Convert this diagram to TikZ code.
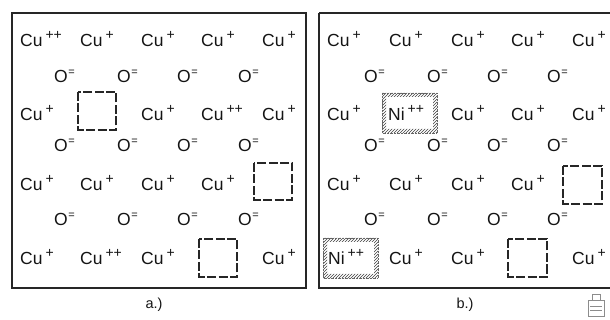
\documentclass[tikz,border=0pt]{standalone}
\usepackage{fontspec}
\setmainfont{Liberation Sans}
\usetikzlibrary{patterns}
\newcommand{\chg}[1]{\raisebox{0.42em}{\fontsize{14}{14}\selectfont #1}}
\newcommand{\cu}[1]{Cu\hspace{3pt}\chg{#1}}
\newcommand{\oxy}{O\hspace{0.5pt}\raisebox{0.42em}{\fontsize{11}{11}\selectfont =}}
\newcommand{\nick}[1]{Ni\hspace{3pt}\chg{#1}}
\begin{document}
\begin{tikzpicture}[x=1pt,y=-1pt,
  ion/.style={inner sep=0pt,anchor=base west,font=\fontsize{17.5}{17.5}\selectfont,text=black!92},
  frame/.style={draw=black!85,line width=1.3pt},
  vacancy/.style={draw=black!85,line width=1.6pt,dash pattern=on 9pt off 2.5pt},
  lbl/.style={inner sep=0pt,font=\fontsize{14.5}{14.5}\selectfont,text=black!92}]
\useasboundingbox (0,0) rectangle (610,320);
\clip (0,0) rectangle (610,320);

% ---------------- panel a ----------------
\draw[frame] (12,13) rectangle (306,288);
% copper rows
\node[ion] (a11) at (20,47) {\cu{++}};
\node[ion] (a12) at (80,47) {\cu{+}};
\node[ion] (a13) at (141,47) {\cu{+}};
\node[ion] (a14) at (201,47) {\cu{+}};
\node[ion] (a15) at (262,47) {\cu{+}};
\node[ion] (a21) at (20,121) {\cu{+}};
\node[ion] (a23) at (141,121) {\cu{+}};
\node[ion] (a24) at (201,121) {\cu{++}};
\node[ion] (a25) at (262,121) {\cu{+}};
\node[ion] (a31) at (20,191) {\cu{+}};
\node[ion] (a32) at (80,191) {\cu{+}};
\node[ion] (a33) at (141,191) {\cu{+}};
\node[ion] (a34) at (201,191) {\cu{+}};
\node[ion] (a41) at (20,265) {\cu{+}};
\node[ion] (a42) at (80,265) {\cu{++}};
\node[ion] (a43) at (141,265) {\cu{+}};
\node[ion] (a45) at (262,265) {\cu{+}};
% oxygen rows
\foreach \r/\y in {1/83,2/152,3/226}{
  \node[ion] (ao\r1) at (54,\y) {\oxy};
  \node[ion] (ao\r2) at (117,\y) {\oxy};
  \node[ion] (ao\r3) at (177,\y) {\oxy};
  \node[ion] (ao\r4) at (238,\y) {\oxy};
}
% cation vacancies
\draw[vacancy] (78,92) rectangle (116,130);
\draw[vacancy] (254,163) rectangle (292,200);
\draw[vacancy] (199,239) rectangle (237,277);
\node[lbl] (la) at (154,305) {a.)};

% ---------------- panel b ----------------
\draw[frame] (319,13) -- (616,13);
\draw[frame] (319,13) -- (319,288) -- (616,288);
\node[ion] (b11) at (327,47) {\cu{+}};
\node[ion] (b12) at (389,47) {\cu{+}};
\node[ion] (b13) at (451,47) {\cu{+}};
\node[ion] (b14) at (511,47) {\cu{+}};
\node[ion] (b15) at (572,47) {\cu{+}};
\node[ion] (b21) at (327,121) {\cu{+}};
\node[ion] (b23) at (451,121) {\cu{+}};
\node[ion] (b24) at (511,121) {\cu{+}};
\node[ion] (b25) at (572,121) {\cu{+}};
\node[ion] (b31) at (327,191) {\cu{+}};
\node[ion] (b32) at (389,191) {\cu{+}};
\node[ion] (b33) at (451,191) {\cu{+}};
\node[ion] (b34) at (511,191) {\cu{+}};
\node[ion] (b42) at (389,265) {\cu{+}};
\node[ion] (b43) at (451,265) {\cu{+}};
\node[ion] (b45) at (572,265) {\cu{+}};
\foreach \r/\y in {1/83,2/152,3/226}{
  \node[ion] (bo\r1) at (364,\y) {\oxy};
  \node[ion] (bo\r2) at (427,\y) {\oxy};
  \node[ion] (bo\r3) at (487,\y) {\oxy};
  \node[ion] (bo\r4) at (547,\y) {\oxy};
}
% nickel substitutions with hatched frame
\fill[pattern=north east lines,pattern color=black!75,even odd rule]
  (382,93) rectangle (437,133) (386,97) rectangle (433,129);
\draw[black!60,line width=0.4pt,densely dotted] (382,93) rectangle (437,133);
\node[ion] (bn2) at (388,121) {\nick{++}};
\fill[pattern=north east lines,pattern color=black!75,even odd rule]
  (323,238) rectangle (378,278) (327,242) rectangle (374,274);
\draw[black!60,line width=0.4pt,densely dotted] (323,238) rectangle (378,278);
\node[ion] (bn4) at (328,265) {\nick{++}};
% cation vacancies
\draw[vacancy] (563,166) rectangle (602,204);
\draw[vacancy] (508,239) rectangle (547,277);
\node[lbl] (lb) at (465,305) {b.)};

% small mark in the corner
\begin{scope}[black!45,line width=0.5pt]
  \draw (588,300) rectangle (604,316);
  \draw (592,300) -- (592,294) -- (600,294) -- (600,300);
  \draw (590,306) -- (602,306) (590,310) -- (602,310);
\end{scope}
\end{tikzpicture}
\end{document}
